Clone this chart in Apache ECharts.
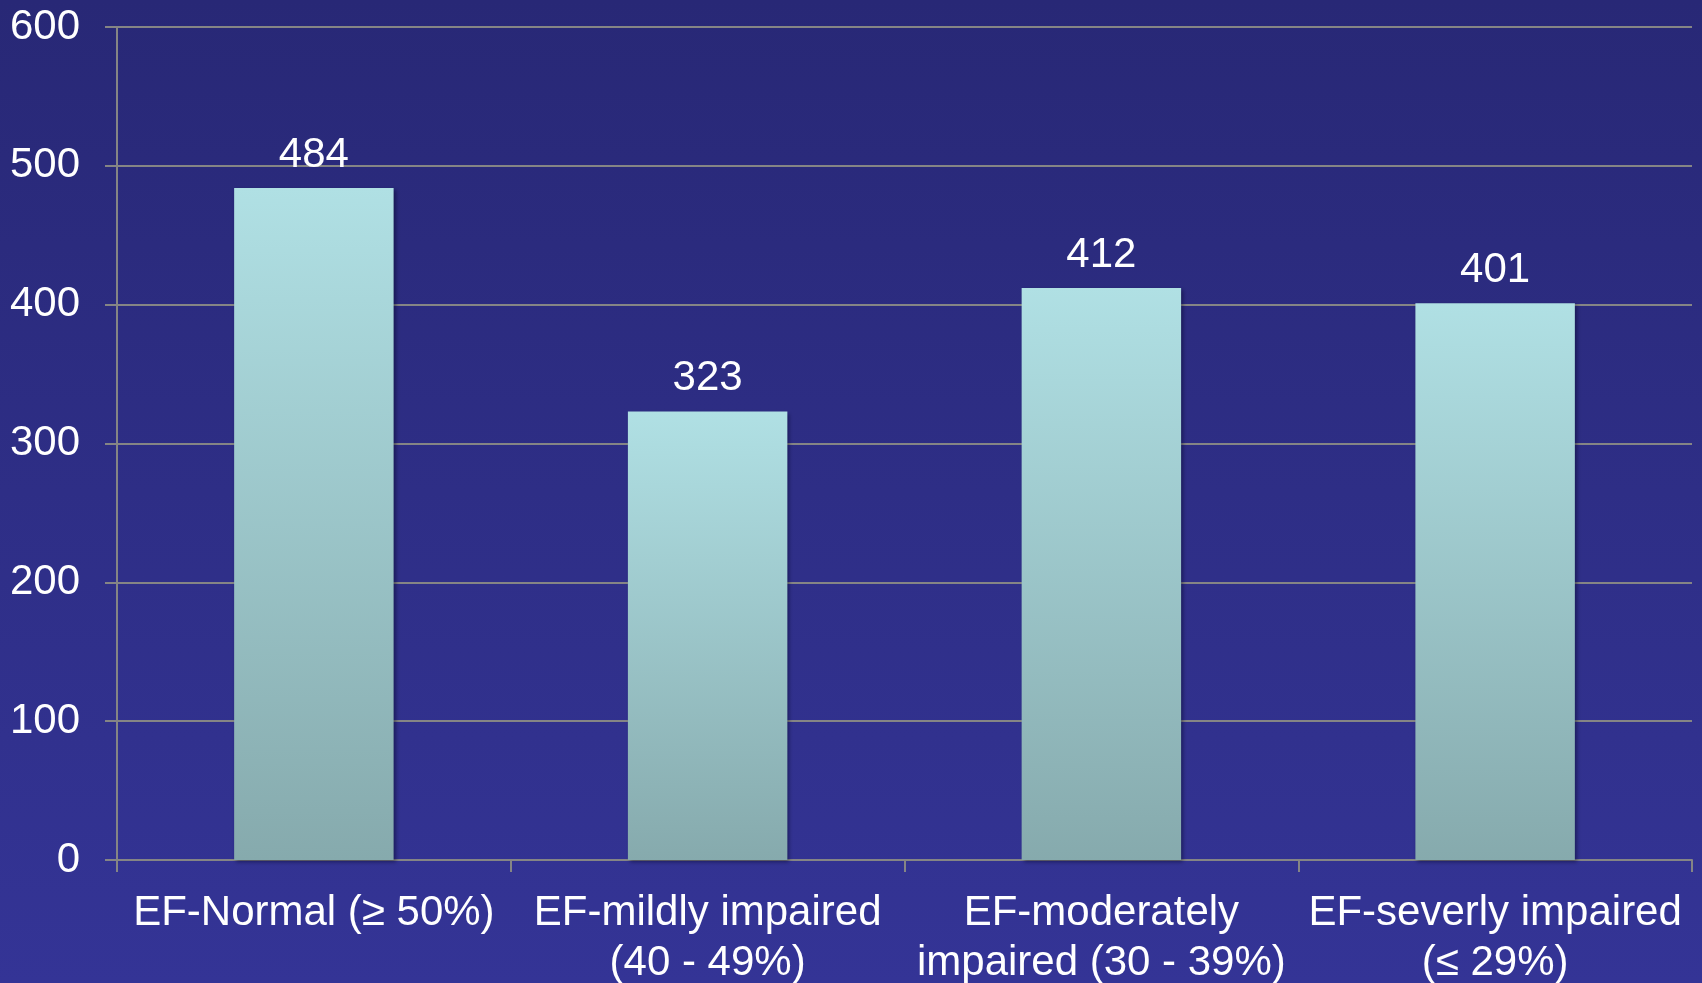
<!DOCTYPE html>
<html>
<head>
<meta charset="utf-8">
<style>
  html, body { margin: 0; padding: 0; }
  #chart { width: 1702px; height: 983px; }
</style>
<script src="https://cdn.jsdelivr.net/npm/echarts@6/dist/echarts.min.js"></script>
</head>
<body>
<div id="chart"></div>
<script>
// Ejection-fraction groups and their counts
const categories = [
  'EF-Normal (≥ 50%)',
  'EF-mildly impaired\n(40 - 49%)',
  'EF-moderately\nimpaired (30 - 39%)',
  'EF-severly impaired\n(≤ 29%)'
];
const counts = [484, 323, 412, 401];
const yTicks = { min: 0, max: 600, interval: 100 };

const FONT = '"Liberation Sans", Arial, sans-serif';
const GRID_GREY = '#858585';

const chart = echarts.init(document.getElementById('chart'), null, { renderer: 'canvas' });

chart.setOption({
  animation: false,
  backgroundColor: new echarts.graphic.LinearGradient(0, 0, 0, 1, [
    { offset: 0, color: '#282876' },
    { offset: 1, color: '#343496' }
  ]),
  grid: {
    left: 117, right: 10, top: 27, bottom: 123,
    containLabel: false,
    outerBoundsMode: 'none'
  },
  xAxis: {
    type: 'category',
    data: categories,
    axisLine: { show: true, lineStyle: { color: GRID_GREY, width: 2 } },
    axisTick: { show: true, alignWithLabel: false, length: 12, lineStyle: { color: GRID_GREY, width: 2 } },
    axisLabel: {
      color: '#ffffff',
      fontFamily: FONT,
      fontSize: 42,
      lineHeight: 50,
      margin: 28,
      interval: 0
    },
    splitLine: { show: false }
  },
  yAxis: {
    type: 'value',
    min: yTicks.min,
    max: yTicks.max,
    interval: yTicks.interval,
    axisLine: { show: true, lineStyle: { color: GRID_GREY, width: 2 } },
    axisTick: { show: true, length: 12, lineStyle: { color: GRID_GREY, width: 2 } },
    axisLabel: {
      color: '#ffffff',
      fontFamily: FONT,
      fontSize: 42,
      margin: 37,
      padding: [5, 0, 0, 0]
    },
    splitLine: { show: true, lineStyle: { color: GRID_GREY, width: 2 } }
  },
  series: [{
    type: 'bar',
    data: counts,
    barWidth: '40.5%',
    itemStyle: {
      color: new echarts.graphic.LinearGradient(0, 0, 0, 1, [
        { offset: 0, color: '#b0e0e4' },
        { offset: 1, color: '#86aaad' }
      ]),
      shadowColor: 'rgba(0, 0, 30, 0.45)',
      shadowBlur: 4,
      shadowOffsetX: 2,
      shadowOffsetY: 2
    },
    label: {
      show: true,
      position: 'top',
      distance: 12,
      color: '#ffffff',
      fontFamily: FONT,
      fontSize: 42
    }
  }]
});
</script>
</body>
</html>
